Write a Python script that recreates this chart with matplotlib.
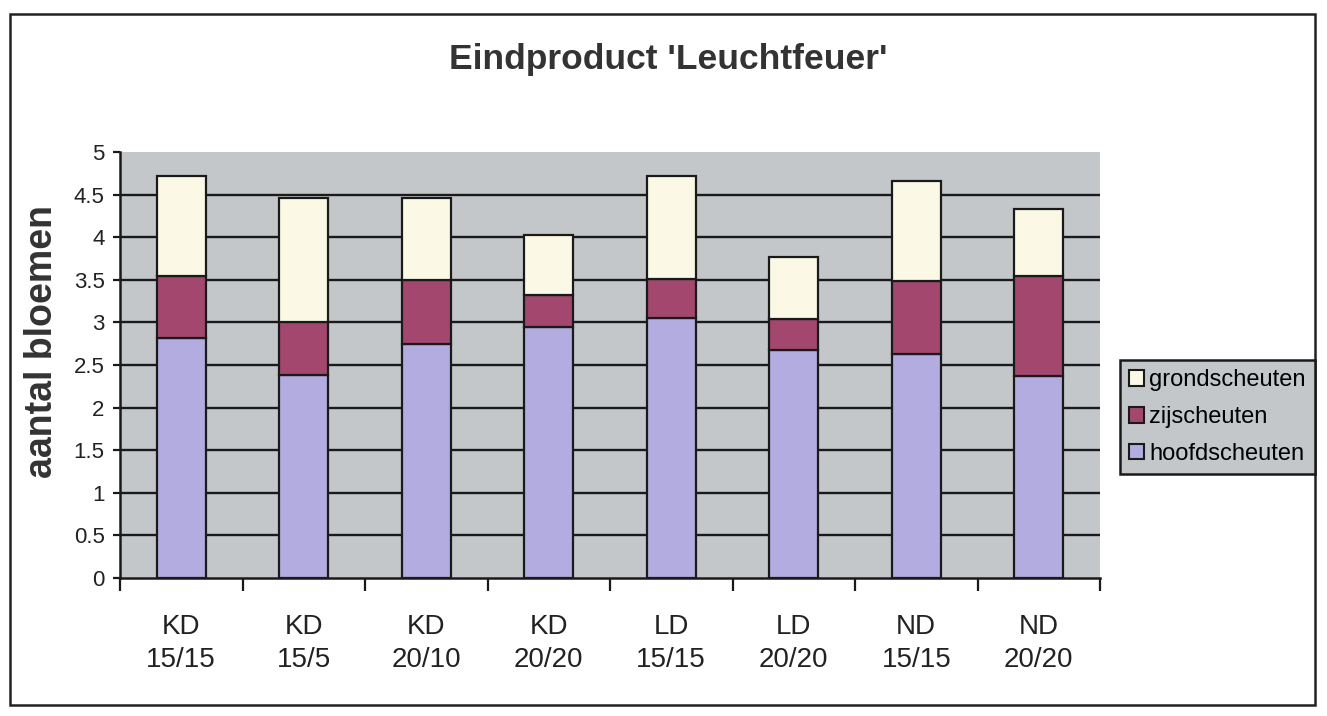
import matplotlib
matplotlib.use("Agg")
import matplotlib.pyplot as plt
import numpy as np
from matplotlib.patches import Rectangle, Patch

plt.rcParams['font.family'] = ['Liberation Sans', 'DejaVu Sans']

categories = ["KD\n15/15", "KD\n15/5", "KD\n20/10", "KD\n20/20",
              "LD\n15/15", "LD\n20/20", "ND\n15/15", "ND\n20/20"]
hoofdscheuten = [2.82, 2.38, 2.75, 2.95, 3.05, 2.68, 2.63, 2.37]
zijscheuten   = [0.72, 0.62, 0.75, 0.37, 0.46, 0.36, 0.86, 1.17]
grondscheuten = [1.18, 1.46, 0.96, 0.71, 1.21, 0.73, 1.17, 0.79]
yticks = [0, 0.5, 1, 1.5, 2, 2.5, 3, 3.5, 4, 4.5, 5]
ytick_labels = ["0", "0.5", "1", "1.5", "2", "2.5", "3", "3.5", "4", "4.5", "5"]

c_hoofd = '#b3ace0'
c_zij = '#a3476f'
c_grond = '#fbf9e6'
c_bg = '#c4c7ca'

W, H = 1327, 716
fig = plt.figure(figsize=(W / 100, H / 100), dpi=100)

# outer frame
fig.patches.append(Rectangle((10 / W, 1 - 705 / H), 1305 / W, 691 / H,
                             transform=fig.transFigure, fill=False,
                             edgecolor='#222222', linewidth=1.8))

ax = fig.add_axes([120 / W, 1 - 578 / H, 980 / W, 426 / H])
ax.set_facecolor(c_bg)

x = np.arange(len(categories))
h = np.array(hoofdscheuten)
z = np.array(zijscheuten)
g = np.array(grondscheuten)
bw = 0.4
kw = dict(width=bw, edgecolor='#1a1a1a', linewidth=1.6, zorder=3)
ax.bar(x, h, color=c_hoofd, **kw)
ax.bar(x, z, bottom=h, color=c_zij, **kw)
ax.bar(x, g, bottom=h + z, color=c_grond, **kw)

ax.set_xlim(-0.5, len(categories) - 0.5)
ax.set_ylim(0, 5)
ax.set_yticks(yticks)
ax.set_yticklabels(ytick_labels, fontsize=16, color='#222222')
for v in yticks[1:-1]:
    ax.axhline(v, color='#1a1a1a', linewidth=1.7, zorder=1)

ax.set_xticks(np.arange(len(categories) + 1) - 0.5)
ax.set_xticklabels([])
ax.set_xticks(x, minor=True)
ax.set_xticklabels(categories, minor=True, fontsize=20, color='#222222',
                   linespacing=1.35)
ax.tick_params(axis='x', which='major', length=9, width=1.6, direction='out',
               color='#1a1a1a')
ax.tick_params(axis='x', which='minor', length=0, pad=26)
ax.tick_params(axis='y', length=5, width=1.6, direction='out', pad=6,
               color='#1a1a1a')

for s in ['top', 'right']:
    ax.spines[s].set_visible(False)
for s in ['left', 'bottom']:
    ax.spines[s].set_linewidth(1.8)
    ax.spines[s].set_color('#1a1a1a')
    ax.spines[s].set_zorder(4)

fig.text(668 / W, 1 - 60 / H, "Eindproduct 'Leuchtfeuer'", ha='center',
         va='center', fontsize=25.5, fontweight='bold', color='#333333')
fig.text(42 / W, 1 - 342 / H, "aantal bloemen", ha='center', va='center',
         rotation=90, fontsize=27, fontweight='bold', color='#333333')

handles = [Patch(facecolor=c_grond, edgecolor='#1a1a1a', linewidth=1.5),
           Patch(facecolor=c_zij, edgecolor='#1a1a1a', linewidth=1.5),
           Patch(facecolor=c_hoofd, edgecolor='#1a1a1a', linewidth=1.5)]
leg = fig.legend(handles, ["grondscheuten", "zijscheuten", "hoofdscheuten"],
                 loc='upper right', bbox_to_anchor=(1315 / W, 1 - 360 / H),
                 fontsize=17, fancybox=False, frameon=True,
                 handlelength=0.65, handleheight=0.65, handletextpad=0.2,
                 labelspacing=0.62, borderpad=0.4, borderaxespad=0)
fr = leg.get_frame()
fr.set_facecolor(c_bg)
fr.set_edgecolor('#1a1a1a')
fr.set_linewidth(1.8)
fr.set_alpha(1)

fig.savefig("out.png", dpi=100)
